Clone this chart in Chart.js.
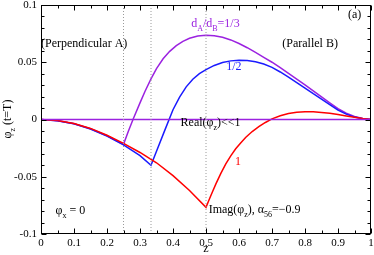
<!DOCTYPE html>
<html>
<head>
<meta charset="utf-8">
<script src="https://cdn.jsdelivr.net/npm/chart.js@4/dist/chart.umd.min.js"></script>
<style>
html,body{margin:0;padding:0;background:#fff;}
#c{display:block;}
</style>
</head>
<body>
<canvas id="c" width="374" height="255"></canvas>
<script>
// ---- data ----
const zRed = [0,0.05,0.1,0.15,0.2,0.25,0.3,0.35,0.4,0.45,0.5,0.51,0.52,0.53,0.545,0.56,0.575,0.59,0.605,0.62,0.64,0.66,0.68,0.7,0.725,0.75,0.775,0.8,0.825,0.85,0.875,0.9,0.925,0.95,0.975,1];
const red  = [0,-0.0009,-0.0035,-0.0078,-0.0138,-0.0208,-0.0288,-0.0378,-0.049,-0.062,-0.0767,-0.0697,-0.0629,-0.0562,-0.047,-0.0388,-0.0318,-0.0256,-0.0205,-0.0157,-0.0105,-0.0063,-0.0026,0.0006,0.0033,0.0052,0.0064,0.0068,0.0067,0.0062,0.0054,0.0043,0.0031,0.0019,0.0008,0];

const zBlue = [0,0.05,0.1,0.15,0.2,0.25,0.3,0.3333,0.35,0.375,0.4,0.42,0.44,0.46,0.48,0.5,0.525,0.55,0.575,0.6,0.625,0.65,0.675,0.7,0.725,0.75,0.775,0.8,0.825,0.85,0.875,0.9,0.925,0.95,0.975,1];
const blue  = [0,-0.001,-0.0038,-0.0083,-0.0145,-0.0222,-0.0315,-0.04,-0.0277,-0.0095,0.0085,0.0195,0.0285,0.0352,0.04,0.0435,0.0472,0.0498,0.0512,0.0517,0.0515,0.0505,0.0484,0.0455,0.0415,0.037,0.0322,0.0275,0.0225,0.0178,0.013,0.0082,0.0047,0.0021,0.0006,0];

const zPurple = [0,0.05,0.1,0.15,0.2,0.25,0.265,0.28,0.3,0.315,0.3333,0.35,0.37,0.39,0.41,0.43,0.45,0.475,0.5,0.525,0.55,0.575,0.6,0.625,0.65,0.675,0.7,0.725,0.75,0.775,0.8,0.825,0.85,0.875,0.9,0.925,0.95,0.975,1];
const purple  = [0,-0.001,-0.0037,-0.0081,-0.0142,-0.0217,-0.01,0.0008,0.0145,0.0245,0.0355,0.0445,0.053,0.0595,0.0645,0.0683,0.071,0.0729,0.0736,0.0732,0.0718,0.0695,0.0664,0.0627,0.0586,0.0543,0.05,0.0452,0.0403,0.0353,0.0303,0.025,0.0197,0.0145,0.0094,0.0055,0.0027,0.0009,0];

const zReal = [0, 1];
const real  = [0, 0];

const markerZ = [0.25, 1/3, 0.5];

const xTicks = {min:0, max:1, step:0.1, minor:0.05};
const yTicks = {min:-0.1, max:0.1, step:0.05, minor:0.01};

// ---- styles ----
const RED = '#ff0000', BLUE = '#1a1aff', PURPLE = '#9b22e0';
const FONT = '"Liberation Serif", "DejaVu Serif", serif';
const FS = 11;   // tick labels
const AFS = 12;  // annotations

function pts(xs, ys){ return xs.map((x,i)=>({x:x, y:ys[i]})); }

const datasets = [];
markerZ.forEach(z=>{
  datasets.push({data:[{x:z,y:yTicks.min},{x:z,y:yTicks.max}], borderColor:'#9a9a9a', borderWidth:1, borderDash:[1,2], pointRadius:0, tension:0});
});
datasets.push({data:pts(zReal, real), borderColor:PURPLE, borderWidth:1.5, pointRadius:0, tension:0});
datasets.push({data:pts(zRed, red), borderColor:RED, borderWidth:1.5, pointRadius:0, tension:0});
datasets.push({data:pts(zBlue, blue), borderColor:BLUE, borderWidth:1.5, pointRadius:0, tension:0});
datasets.push({data:pts(zPurple, purple), borderColor:PURPLE, borderWidth:1.5, pointRadius:0, tension:0});

function drawRich(ctx, x, y, segs, size, color){
  ctx.fillStyle = color;
  ctx.textBaseline = 'alphabetic';
  ctx.textAlign = 'left';
  let cx = x;
  segs.forEach(s=>{
    const fs = s.sub ? Math.round(size*0.65) : size;
    ctx.font = fs + 'px ' + FONT;
    ctx.fillText(s.t, cx, y + (s.sub ? size*0.3 : 0));
    cx += ctx.measureText(s.t).width;
  });
  return cx - x;
}
function richWidth(ctx, segs, size){
  let w=0;
  segs.forEach(s=>{ const fs = s.sub ? Math.round(size*0.65) : size; ctx.font = fs+'px '+FONT; w += ctx.measureText(s.t).width;});
  return w;
}

const labels = [
  {z:0.0,  v:0.0633, segs:[{t:'(Perpendicular A)'}], c:'#000'},
  {z:0.731,v:0.0633, segs:[{t:'(Parallel B)'}], c:'#000'},
  {z:0.93, v:0.0885, segs:[{t:'(a)'}], c:'#000'},
  {z:0.455,v:0.0808, segs:[{t:'d'},{t:'A',sub:true},{t:'/d'},{t:'B',sub:true},{t:'=1/3'}], c:PURPLE},
  {z:0.561,v:0.0428, segs:[{t:'1/2'}], c:BLUE},
  {z:0.588,v:-0.0397,segs:[{t:'1'}], c:RED},
  {z:0.423,v:-0.0060,segs:[{t:'Real(φ'},{t:'z',sub:true},{t:')<<1'}], c:'#000'},
  {z:0.508,v:-0.0817,segs:[{t:'Imag(φ'},{t:'z',sub:true},{t:'), α'},{t:'56',sub:true},{t:'=−0.9'}], c:'#000'},
  {z:0.044,v:-0.0825,segs:[{t:'φ'},{t:'x',sub:true},{t:' = 0'}], c:'#000'}
];

const decor = {
  id:'decor',
  afterDatasetsDraw(chart){
    const ctx = chart.ctx, a = chart.chartArea;
    const xs = chart.scales.x, ys = chart.scales.y;
    ctx.save();
    ctx.strokeStyle = '#000'; ctx.lineWidth = 1;
    const L0 = Math.round(a.left)+0.5, T0 = Math.round(a.top)+0.5, R0 = Math.round(a.right)-0.5, B0 = Math.round(a.bottom)-0.5;
    ctx.strokeRect(L0, T0, R0-L0, B0-T0);
    ctx.beginPath();
    const nx = Math.round((xTicks.max-xTicks.min)/xTicks.minor);
    for(let i=0;i<=nx;i++){
      const v = xTicks.min + i*xTicks.minor;
      const L = (i%2===0)?5:3;
      const px = Math.round(xs.getPixelForValue(v))+0.5;
      ctx.moveTo(px, B0); ctx.lineTo(px, B0-L);
      ctx.moveTo(px, T0); ctx.lineTo(px, T0+L);
    }
    const ny = Math.round((yTicks.max-yTicks.min)/yTicks.minor);
    for(let i=0;i<=ny;i++){
      const v = yTicks.min + i*yTicks.minor;
      const L = (i%5===0)?5:3;
      const py = Math.round(ys.getPixelForValue(v))+0.5;
      ctx.moveTo(L0, py); ctx.lineTo(L0+L, py);
      ctx.moveTo(R0, py); ctx.lineTo(R0-L, py);
    }
    ctx.stroke();
    labels.forEach(l=>{
      drawRich(ctx, xs.getPixelForValue(l.z), ys.getPixelForValue(l.v), l.segs, AFS, l.c);
    });
    ctx.font = AFS + 'px ' + FONT;
    ctx.fillStyle = '#000';
    ctx.textAlign = 'center';
    ctx.fillText('z', xs.getPixelForValue(0.5), 252);
    const ysegs = [{t:'φ'},{t:'z',sub:true},{t:' (t=T)'}];
    const w = richWidth(ctx, ysegs, AFS);
    ctx.translate(11, 119);
    ctx.rotate(-Math.PI/2);
    drawRich(ctx, -w/2, 0, ysegs, AFS, '#000');
    ctx.restore();
  }
};

function fmt(v, d){ const r = Math.round(v*d)/d; return String(r); }

new Chart(document.getElementById('c'), {
  type:'line',
  data:{datasets:datasets},
  options:{
    responsive:false, animation:false, devicePixelRatio:1,
    layout:{padding:{left:0, right:3, top:5, bottom:0}},
    plugins:{legend:{display:false}, tooltip:{enabled:false}},
    scales:{
      x:{type:'linear', min:xTicks.min, max:xTicks.max,
         ticks:{stepSize:xTicks.step, color:'#000', padding:3, maxRotation:0, autoSkip:false,
                font:{family:FONT, size:FS}, callback:(v)=>fmt(v,10)},
         grid:{display:true, drawOnChartArea:false, drawTicks:false, tickLength:0},
         border:{display:false},
         afterFit:(s)=>{ s.height = 21; s.paddingLeft = 0; s.paddingRight = 0; }},
      y:{type:'linear', min:yTicks.min, max:yTicks.max,
         ticks:{stepSize:yTicks.step, color:'#000', padding:4, autoSkip:false,
                font:{family:FONT, size:FS}, callback:(v)=>fmt(v,100)},
         grid:{display:true, drawOnChartArea:false, drawTicks:false, tickLength:0},
         border:{display:false},
         afterFit:(s)=>{ s.width = 41; s.paddingTop = 0; s.paddingBottom = 0; }}
    }
  },
  plugins:[decor]
});
</script>
</body>
</html>
